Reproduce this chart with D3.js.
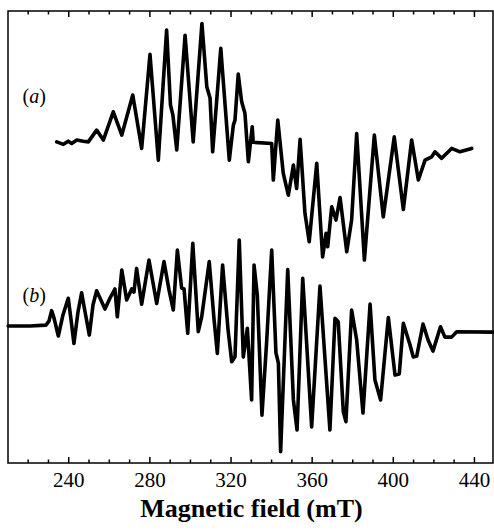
<!DOCTYPE html>
<html>
<head>
<meta charset="utf-8">
<script src="https://cdn.jsdelivr.net/npm/d3@7"></script>
<style>
  html, body { margin: 0; padding: 0; background: #fff; }
  svg { display: block; }
  text { font-family: "Liberation Serif", "Times New Roman", Times, serif; fill: #000; }
</style>
</head>
<body>
<svg id="chart" width="494" height="530"></svg>
<script>
// EPR spectra: magnetic field (mT) and first-derivative intensity (arbitrary units)
const fieldA = [234.3, 237.6, 240.0, 241.7, 244.2, 247.4, 249.9, 254.0, 257.3, 262.2, 266.4, 271.8, 276.2, 280.3, 284.4, 288.5, 290.4, 291.6, 293.5, 297.6, 301.6, 305.9, 308.3, 309.9, 311.2, 315.2, 319.4, 321.4, 322.2, 323.8, 325.5, 327.1, 328.8, 330.7, 331.2, 340.3, 341.1, 343.3, 346.0, 348.5, 351.0, 352.6, 354.3, 356.7, 358.8, 362.5, 365.4, 367.1, 367.9, 369.9, 372.0, 374.0, 377.3, 379.7, 382.2, 386.0, 390.9, 395.3, 400.7, 405.2, 409.3, 412.6, 415.9, 419.2, 420.8, 424.1, 429.0, 433.1, 438.9];
const intensityA = [0.1, -1.0, 0.4, -0.6, 0.9, 0.4, 0.1, 5.3, 0.9, 13.4, 3.1, 20.8, -2.8, 38.8, -8.0, 49.6, 16.4, 11.9, -3.5, 47.3, 0.1, 52.5, 24.5, 19.5, -4.3, 41.5, -8.0, 7.5, 9.7, 30.1, 17.8, 12.8, -8.7, 6.8, -0.1, -0.6, -16.8, 9.7, -13.8, -23.5, -10.2, -20.5, 1.2, -31.5, -44.1, -9.4, -50.8, -40.4, -46.3, -28.6, -34.5, -24.5, -48.5, -34.5, 3.8, -52.2, 3.1, -33.1, 2.3, -29.8, 0.9, -16.8, -8.0, -6.5, -4.3, -7.2, -2.8, -4.3, -2.8];

const fieldB = [210.4, 221.2, 229.0, 230.5, 231.8, 233.0, 235.1, 237.4, 240.0, 241.4, 242.8, 244.8, 246.6, 248.3, 250.4, 252.2, 254.0, 256.1, 258.1, 260.6, 263.0, 264.2, 266.4, 268.8, 271.3, 272.4, 273.7, 276.2, 279.8, 283.6, 287.2, 289.7, 291.8, 293.8, 295.9, 297.1, 298.9, 301.4, 304.1, 305.8, 309.5, 311.9, 313.5, 316.1, 318.8, 320.6, 322.2, 324.3, 326.3, 328.3, 330.4, 331.6, 333.2, 335.5, 337.8, 340.3, 342.4, 343.6, 344.7, 348.2, 351.0, 352.8, 355.6, 360.0, 364.1, 369.0, 371.5, 373.1, 375.6, 376.9, 379.7, 382.2, 385.3, 388.8, 391.2, 394.0, 397.8, 401.1, 403.2, 405.2, 408.5, 410.1, 411.8, 414.9, 417.4, 419.8, 423.5, 425.7, 429.0, 431.5, 449.4];
const intensityB = [0, 0, 0.4, 2.2, 6.8, 3.5, -4.4, 4.9, 12.3, 2.7, -7.7, 6.2, 14.7, 6.2, -4.0, 9.3, 15.6, 11.5, 7.5, 12.4, 16.4, 4.1, 24.8, 11.5, 16.4, 15.0, 25.5, 9.7, 29.2, 10.0, 28.5, 15.9, 7.1, 33.6, 16.8, 16.4, -3.2, 36.6, -2.5, 4.1, 28.5, 2.7, -12.1, 27.0, -1.8, -15.8, -13.6, 38.1, -13.7, -1.0, -32.7, 27.0, 13.7, -39.4, -7.1, 33.6, -11.9, -16.4, -55.6, 25.0, -32.7, -46.0, 21.1, -44.6, 17.7, -46.0, 3.4, 1.9, -37.9, -42.3, 7.1, -6.2, -38.5, 9.7, -23.9, -32.7, 3.8, -21.7, -21.2, 1.2, -8.4, -13.7, -13.3, 0.9, -6.2, -11.1, -0.3, -4.9, -4.9, -2.5, -2.7];

// vertical offsets used to stack the two traces
const traceNames = ["(a)", "(b)"];
const traceOffsets = [42.0, -39.4];

// axis ticks
const majorTicks = [240, 280, 320, 360, 400, 440];
const minorTicks = [220, 230, 250, 260, 270, 290, 300, 310, 330, 340, 350, 370, 380, 390, 410, 420, 430];
const axisTitle = "Magnetic field (mT)";

const svg = d3.select("#chart");
const plot = { left: 8, right: 493, top: 11, bottom: 463 };

const x = d3.scaleLinear().domain([210.3, 449.4]).range([plot.left, plot.right]);
const y = d3.scaleLinear().domain([-100, 100]).range([plot.bottom, plot.top]);

// spectra
const traces = [
  { name: traceNames[0], offset: traceOffsets[0], pts: fieldA.map((f, i) => [f, intensityA[i]]) },
  { name: traceNames[1], offset: traceOffsets[1], pts: fieldB.map((f, i) => [f, intensityB[i]]) }
];

const line = d3.line().curve(d3.curveLinear);

traces.forEach(t => {
  line.x(d => x(d[0])).y(d => y(d[1] + t.offset));
  svg.append("path")
    .attr("d", line(t.pts))
    .attr("fill", "none")
    .attr("stroke", "#000")
    .attr("stroke-width", 3.6)
    .attr("stroke-linejoin", "round")
    .attr("stroke-linecap", "round");
});

// trace labels with italic letters
const labelPos = [
  { field: 217.5, value: traceOffsets[0] + 17.2 },
  { field: 217.5, value: traceOffsets[1] + 10.6 }
];
traceNames.forEach((name, i) => {
  const t = svg.append("text")
    .attr("x", x(labelPos[i].field))
    .attr("y", y(labelPos[i].value))
    .attr("font-size", 20);
  t.append("tspan").text("(");
  t.append("tspan").attr("font-style", "italic").text(name.slice(1, -1));
  t.append("tspan").text(")");
});

// frame
svg.append("rect")
  .attr("x", plot.left).attr("y", plot.top)
  .attr("width", plot.right - plot.left).attr("height", plot.bottom - plot.top)
  .attr("fill", "none").attr("stroke", "#000").attr("stroke-width", 1.5);

// bottom axis: inward ticks, labelled majors
const bottomMajor = d3.axisBottom(x).tickValues(majorTicks).tickSizeInner(-6).tickSizeOuter(0).tickPadding(9).tickFormat(d3.format("d"));
const gb = svg.append("g").attr("transform", `translate(0,${plot.bottom})`).call(bottomMajor);
gb.select(".domain").remove();
gb.selectAll("line").attr("stroke-width", 1.5);
gb.selectAll("text").attr("font-size", 21).attr("font-family", "Liberation Serif, Times New Roman, serif");

const bottomMinor = d3.axisBottom(x).tickValues(minorTicks).tickSizeInner(-3.5).tickSizeOuter(0).tickFormat("");
const gbm = svg.append("g").attr("transform", `translate(0,${plot.bottom})`).call(bottomMinor);
gbm.select(".domain").remove();
gbm.selectAll("line").attr("stroke-width", 1.5);

// top axis: inward ticks, no labels
const topMajor = d3.axisTop(x).tickValues(majorTicks).tickSizeInner(-6).tickSizeOuter(0).tickFormat("");
const gt = svg.append("g").attr("transform", `translate(0,${plot.top})`).call(topMajor);
gt.select(".domain").remove();
gt.selectAll("line").attr("stroke-width", 1.5);

const topMinor = d3.axisTop(x).tickValues(minorTicks).tickSizeInner(-3.5).tickSizeOuter(0).tickFormat("");
const gtm = svg.append("g").attr("transform", `translate(0,${plot.top})`).call(topMinor);
gtm.select(".domain").remove();
gtm.selectAll("line").attr("stroke-width", 1.5);

// axis title
svg.append("text")
  .attr("x", (plot.left + plot.right) / 2 + 1)
  .attr("y", 517)
  .attr("text-anchor", "middle")
  .attr("font-size", 26)
  .attr("font-weight", "bold")
  .text(axisTitle);
</script>
</body>
</html>
